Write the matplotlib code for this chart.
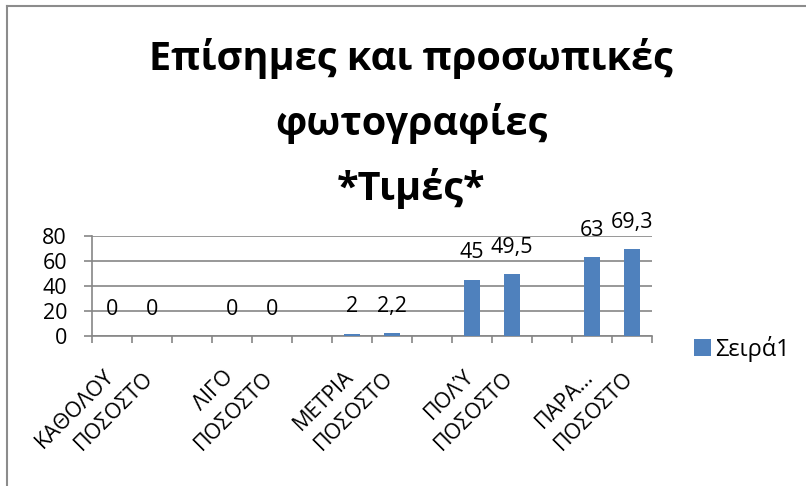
import matplotlib
matplotlib.use("Agg")
import matplotlib.pyplot as plt
from matplotlib.lines import Line2D
from matplotlib.patches import Patch
from matplotlib.transforms import ScaledTranslation

plt.rcParams['font.family'] = ['Open Sans', 'DejaVu Sans']

categories = ["ΚΑΘΟΛΟΥ ΠΟΣΟΣΤΟ", "", "", "ΛΙΓΟ ΠΟΣΟΣΤΟ", "", "", "ΜΕΤΡΙΑ ΠΟΣΟΣΤΟ", "", "",
              "ΠΟΛΎ ΠΟΣΟΣΤΟ", "", "", "ΠΑΡΑ… ΠΟΣΟΣΤΟ", ""]
values = [0, 0, None, 0, 0, None, 2, 2.2, None, 45, 49.5, None, 63, 69.3]
series_name = "Σειρά1"
title = "Επίσημες και προσωπικές\nφωτογραφίες\n*Τιμές*"
yticks = [0, 20, 40, 60, 80]

DPI = 100
fig = plt.figure(figsize=(8.06, 4.86), dpi=DPI)
W, H = 806, 486
ax = fig.add_axes([92 / W, 150 / H, 560 / W, 100 / H])

bar_color = "#4F81BD"
grid_color = "#868686"
x = list(range(len(values)))
vals = [v if v is not None else 0 for v in values]
ax.bar(x, vals, width=0.4, color=bar_color, zorder=3)

for xi, v in zip(x, values):
    if v is None:
        continue
    lab = f"{v:g}".replace('.', ',')
    ax.annotate(lab, (xi, v), xytext=(0, 27 * 72 / DPI), textcoords='offset points',
                ha='center', va='center', fontsize=15.5, color='black', zorder=4)

ax.set_xlim(-0.5, len(values) - 0.5)
ax.set_ylim(0, 80)
ax.set_yticks(yticks)
ax.set_yticklabels([str(t) for t in yticks], fontsize=15.5)
ax.yaxis.grid(True, color=grid_color, linewidth=1.2, zorder=0)
ax.tick_params(axis='y', length=6, width=1.2, color=grid_color, pad=12)

ax.set_xticks([i + 0.5 for i in range(-1, len(values))])
ax.set_xticklabels([])
ax.tick_params(axis='x', which='major', length=5, width=1.2, color=grid_color)

# two-line rotated category labels
xtr = ax.get_xaxis_transform()
for i, c in enumerate(categories):
    if not c:
        continue
    first, second = c.split(" ")
    t2 = xtr + ScaledTranslation(2 / DPI, -75 / DPI, fig.dpi_scale_trans)
    ax.text(i, 0, second, transform=t2, rotation=45, rotation_mode='anchor',
            ha='center', va='center', fontsize=15.5)
    t1 = xtr + ScaledTranslation(-1.5 / DPI, -37.5 / DPI, fig.dpi_scale_trans)
    ax.text(i, 0, first, transform=t1, rotation=45, rotation_mode='anchor',
            ha='right', va='center', fontsize=15.5)

for s in ['top', 'right']:
    ax.spines[s].set_visible(False)
for s in ['left', 'bottom']:
    ax.spines[s].set_color(grid_color)
    ax.spines[s].set_linewidth(1.2)

fig.text(411 / W, 1 - 38 / H, title, ha='center', va='top', fontsize=28.5,
         fontweight='bold', linespacing=1.75)

handle = Patch(facecolor=bar_color, edgecolor='none')
fig.legend([handle], [series_name], loc='center left', bbox_to_anchor=(694 / W, 1 - 349 / H),
           frameon=False, fontsize=17, handlelength=0.7, handleheight=0.7, handletextpad=0.2,
           borderpad=0, borderaxespad=0)

fig.add_artist(Line2D([7 / W, 1.01], [1 - 6 / H, 1 - 6 / H], transform=fig.transFigure,
                      color='#8c8c8c', linewidth=1.5))
fig.add_artist(Line2D([7 / W, 7 / W], [-0.01, 1 - 6 / H], transform=fig.transFigure,
                      color='#8c8c8c', linewidth=1.5))

fig.savefig("out.png", dpi=DPI)
